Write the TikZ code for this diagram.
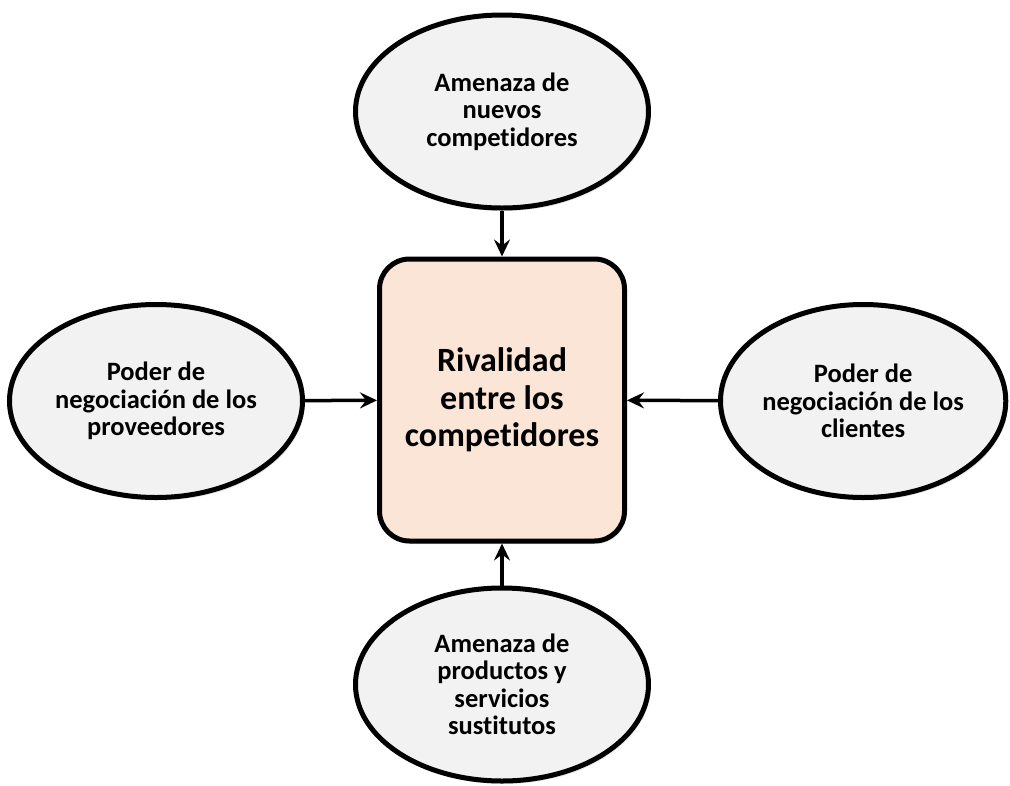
\documentclass[tikz,border=0pt]{standalone}
\usepackage{fontspec}
\setmainfont{Carlito}[Ligatures=NoCommon]
\usepackage{xcolor}
\usepackage{tikz}
\usetikzlibrary{shapes.geometric, arrows.meta, positioning, shadows}

\definecolor{fuerzagris}{HTML}{F2F2F2}
\definecolor{rivalfill}{HTML}{FBE5D6}

\tikzset{
    fuerza/.style={ellipse, draw, line width=5pt, fill=fuerzagris, inner sep=0pt,
        minimum width=293pt, minimum height=193pt, align=center,
        font=\bfseries\fontsize{26.5}{27.5}\selectfont,
        drop shadow={shadow xshift=2pt, shadow yshift=-3pt, opacity=0.2}},
    rival/.style={rectangle, draw, line width=5pt, fill=rivalfill, rounded corners=30pt,
        minimum width=245pt, minimum height=282pt, align=center,
        font=\bfseries\fontsize{34}{37.5}\selectfont,
        drop shadow={shadow xshift=2pt, shadow yshift=-3pt, opacity=0.2}},
    flecha/.style={line width=3.5pt, -{Stealth[length=17pt, width=16pt, inset=6pt]}}
}

\begin{document}
\begin{tikzpicture}[x=1pt, y=1pt]
    \useasboundingbox (0,0) rectangle (1010,-785);
    \node (centro) [rival] at (502,-400) {Rivalidad\\entre los\\competidores};
    \node (nuevos) [fuerza, above=46pt of centro] {Amenaza de\\nuevos\\competidores};
    \node (proveedores) [fuerza, left=72pt of centro, yshift=-1pt] {Poder de\\negociación de los\\proveedores};
    \node (clientes) [fuerza, right=91pt of centro, minimum width=285pt, yshift=-1pt] {Poder de\\negociación de los\\clientes};
    \node (sustitutos) [fuerza, below=42pt of centro] {Amenaza de\\productos y\\servicios\\sustitutos};
    \draw[flecha] (nuevos) -- (centro);
    \draw[flecha] (proveedores) -- (centro);
    \draw[flecha] (clientes) -- (centro);
    \draw[flecha] (sustitutos) -- (centro);
\end{tikzpicture}
\end{document}
